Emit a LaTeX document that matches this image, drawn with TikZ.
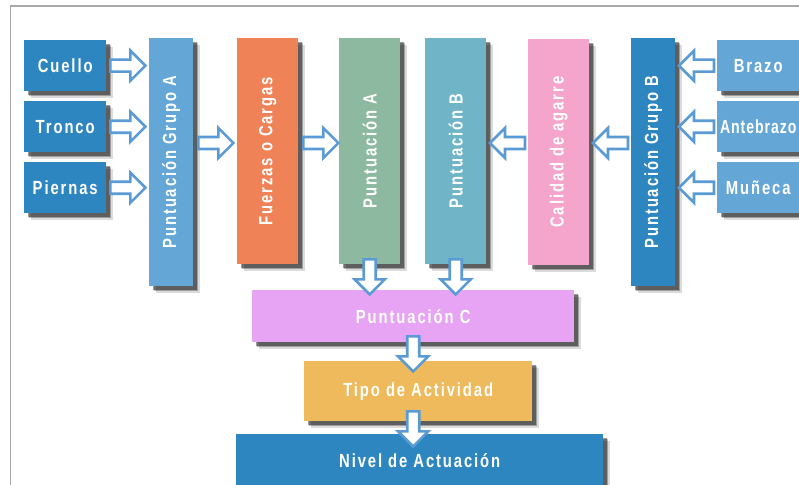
\documentclass[tikz,border=0pt]{standalone}
\usepackage{fontspec}
\setmainfont{Liberation Sans}
\newfontfamily\labfont[FakeStretch=0.78,LetterSpace=10]{Liberation Sans}
\newfontfamily\labtight[FakeStretch=0.74,LetterSpace=5]{Liberation Sans}
\usetikzlibrary{shadows,calc}
\definecolor{dblue}{HTML}{2E86C1}
\definecolor{lblue}{HTML}{64A6D5}
\definecolor{corange}{HTML}{F08258}
\definecolor{cgreen}{HTML}{8DB9A0}
\definecolor{cteal}{HTML}{6FB5C7}
\definecolor{cpink}{HTML}{F5A5CC}
\definecolor{clav}{HTML}{E7A4F4}
\definecolor{cyellow}{HTML}{EFBA5B}
\definecolor{arrowc}{HTML}{5B9BD5}
\definecolor{framec}{HTML}{A8A8A8}
\tikzset{
  softsh/.style={
    drop shadow={shadow xshift=6.5pt,shadow yshift=-6.5pt,fill=black,opacity=0.14},
    drop shadow={shadow xshift=5pt,shadow yshift=-5pt,fill=black,opacity=0.28},
    drop shadow={shadow xshift=3.5pt,shadow yshift=-3.5pt,fill=black,opacity=0.4}},
  box/.style={softsh,rectangle,anchor=north west,inner sep=0pt,text=white,
    font=\labfont\bfseries\fontsize{19}{21}\selectfont},
  smallbox/.style={box,minimum width=82pt,minimum height=51pt},
  tallbox/.style={box,minimum width=61pt,minimum height=226pt},
  groupbox/.style={box,minimum width=44pt,minimum height=248pt},
  arrowline/.style={draw=arrowc,fill=white,line width=2.6pt,line join=miter},
  barrow/.pic={\path[arrowline] (0pt,-6pt) -- (20pt,-6pt) -- (20pt,-15pt) -- (35pt,0pt) -- (20pt,15pt) -- (20pt,6pt) -- (0pt,6pt) -- cycle;}
}
\newcommand{\vtext}[1]{\rotatebox{90}{#1}}
\begin{document}
\begin{tikzpicture}[x=1pt,y=-1pt]
\useasboundingbox (0,0) rectangle (799,484);
\clip (0,0) rectangle (799,484);
\fill[white] (0,0) rectangle (799,484);
\draw[framec,line width=1.5pt] (10.5,490) -- (10.5,6) -- (805,6);

% left inputs
\node[smallbox,fill=dblue] (cuello) at (24,40) {Cuello};
\node[smallbox,fill=dblue] (tronco) at (24,101) {Tronco};
\node[smallbox,fill=dblue] (piernas) at (24,162) {Piernas};
% right inputs
\node[smallbox,fill=lblue] (brazo) at (717,40) {Brazo};
\node[smallbox,fill=lblue,font=\labtight\bfseries\fontsize{19}{21}\selectfont] (antebrazo) at (717,101) {Antebrazo};
\node[smallbox,fill=lblue] (muneca) at (717,162) {Muñeca};

% columns
\node[groupbox,fill=lblue] (ga) at (149,38) {\vtext{Puntuación Grupo A}};
\node[tallbox,fill=corange] (fuerzas) at (237,38) {\vtext{Fuerzas o Cargas}};
\node[tallbox,fill=cgreen] (pa) at (339,38) {\vtext{Puntuación A}};
\node[tallbox,fill=cteal] (pb) at (425,38) {\vtext{Puntuación B}};
\node[tallbox,fill=cpink] (calidad) at (528,39) {\vtext{Calidad de agarre}};
\node[groupbox,fill=dblue] (gb) at (631,38) {\vtext{Puntuación Grupo B}};

% bottom
\node[box,fill=clav,minimum width=322pt,minimum height=52pt] (pc) at (252,290) {Puntuación C};
\node[box,fill=cyellow,minimum width=228pt,minimum height=60pt] (tipo) at (304,361) {Tipo de Actividad};
\node[box,fill=dblue,minimum width=367pt,minimum height=58pt,text depth=6pt] (nivel) at (236,434) {Nivel de Actuación};

\coordinate (mid) at (0,143);

% arrows left group
\path (cuello.east) ++(4,0) pic {barrow};
\path (tronco.east) ++(4,0) pic {barrow};
\path (piernas.east) ++(4,0) pic {barrow};
\path (ga.east |- mid) ++(5,0) pic {barrow};
\path (fuerzas.east |- mid) ++(5,0) pic {barrow};
% arrows right group (pointing left)
\path (brazo.west) ++(-3,0) pic[rotate=180] {barrow};
\path (antebrazo.west) ++(-3,0) pic[rotate=180] {barrow};
\path (muneca.west) ++(-3,0) pic[rotate=180] {barrow};
\path (gb.west |- mid) ++(-3,0) pic[rotate=180] {barrow};
\path (calidad.west |- mid) ++(-3,0) pic[rotate=180] {barrow};
% down arrows
\path (pa.south) ++(0,-5) pic[rotate=-90] {barrow};
\path (pb.south) ++(0,-5) pic[rotate=-90] {barrow};
\path (pc.south) ++(0,-6) pic[rotate=-90] {barrow};
\path (pc.south |- tipo.south) ++(0,-10) pic[rotate=-90] {barrow};
\end{tikzpicture}
\end{document}
